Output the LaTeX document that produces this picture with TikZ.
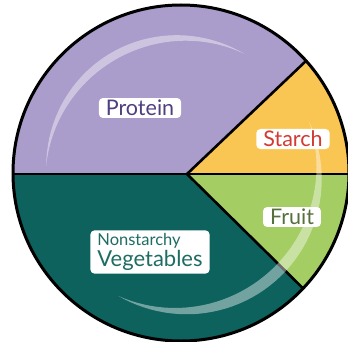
\documentclass[tikz,border=0pt]{standalone}
\usepackage{fontspec}
\setmainfont{Lato}
\definecolor{ProteinFill}{HTML}{AA9CCB}
\definecolor{StarchFill}{HTML}{F9C653}
\definecolor{FruitFill}{HTML}{A4CD63}
\definecolor{VegFill}{HTML}{0D625D}
\definecolor{ProteinInk}{HTML}{4E3F80}
\definecolor{StarchInk}{HTML}{D33A32}
\definecolor{FruitInk}{HTML}{55703C}
\definecolor{VegInk}{HTML}{1E6C64}

\begin{document}
\begin{tikzpicture}[x=1pt,y=1pt,
    tag/.style={fill=white,rounded corners=4pt,inner xsep=7pt,inner ysep=2pt,
      font=\fontsize{21.5}{24}\selectfont},
    divider/.style={line width=2.6pt,draw=black},
    hilite/.style={fill=white,opacity=0.42}
  ]
    \useasboundingbox (0,0) rectangle (348,341);
    \coordinate (mid) at (181,168);
    \coordinate (hub) at (187,167);
    % slices
    \begin{scope}
      \clip (mid) circle (168);
      \fill[VegFill] (mid) circle (168);
      \fill[ProteinFill] (0,167) rectangle (360,341);
      \fill[StarchFill] (hub) -- (327,300) -- (360,300) -- (360,167) -- cycle;
      \fill[FruitFill] (hub) -- (325,31) -- (360,31) -- (360,167) -- cycle;
      \draw[divider] (0,167) -- (360,167);
      \draw[divider] (hub) -- (327,300);
      \draw[divider] (hub) -- (325,31);
      % glossy arcs
      \fill[hilite] plot[domain=62:177,samples=40]
        ({181+(135+4*sin((\x-62)/115*180))*cos(\x)},{168+(135+4*sin((\x-62)/115*180))*sin(\x)})
        -- plot[domain=177:62,samples=40]
        ({181+(135-4*sin((\x-62)/115*180))*cos(\x)},{168+(135-4*sin((\x-62)/115*180))*sin(\x)})
        -- cycle;
      \fill[hilite] plot[domain=22:-117,samples=50]
        ({181+(138+5.5*sin((22-\x)/139*180))*cos(\x)},{168+(138+5.5*sin((22-\x)/139*180))*sin(\x)})
        -- plot[domain=-117:22,samples=50]
        ({181+(138-5.5*sin((22-\x)/139*180))*cos(\x)},{168+(138-5.5*sin((22-\x)/139*180))*sin(\x)})
        -- cycle;
    \end{scope}
    \draw[line width=3pt] (mid) circle (168);
    % labels
    \node[tag,text=ProteinInk] (protein) at (140,233) {Protein};
    \node[tag,text=StarchInk] (starch) at (293,202) {Starch};
    \node[tag,text=FruitInk] (fruit) at (292,124) {Fruit};
    \node[tag,text=VegInk,align=left,inner ysep=3pt,font=\normalsize] (veg) at (150,89)
      {{\fontsize{16.5}{19}\selectfont Nonstarchy}\\[1pt]{\fontsize{22}{24}\selectfont Vegetables}};
  \end{tikzpicture}
\end{document}
